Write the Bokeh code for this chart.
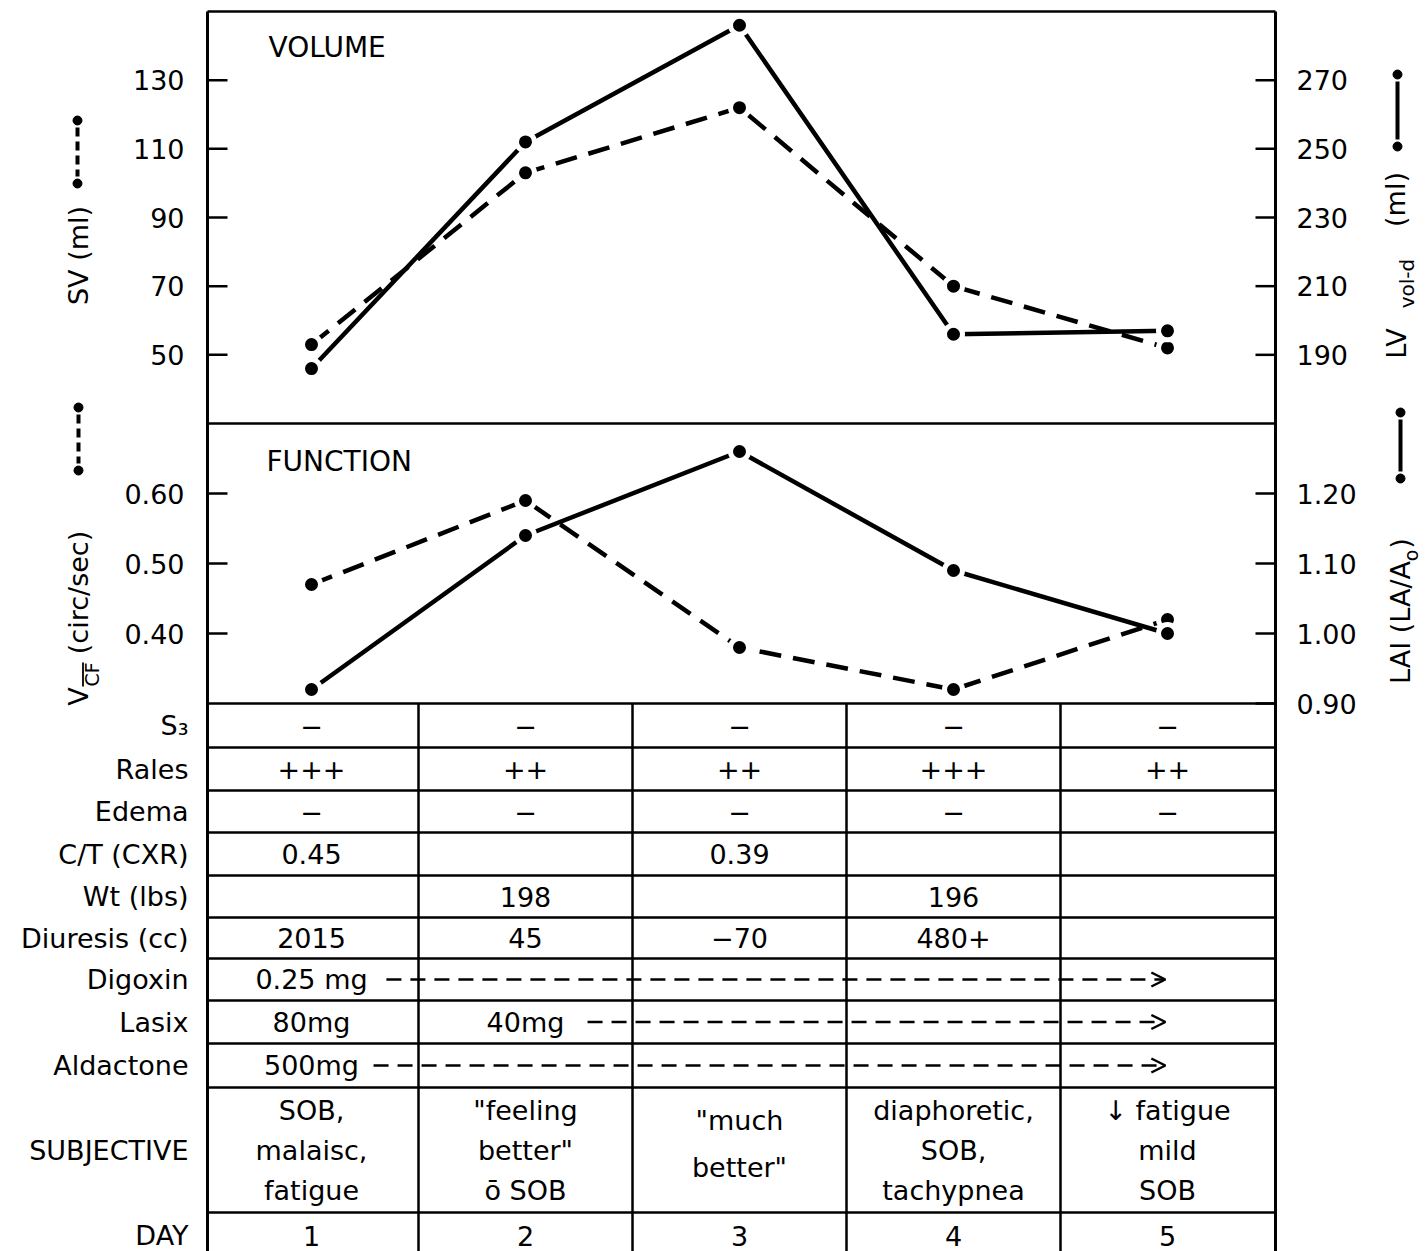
from math import pi

from bokeh.core.properties import value
from bokeh.embed import file_html
from bokeh.models import Arrow, OpenHead, Range1d
from bokeh.plotting import figure
from bokeh.resources import INLINE

# ------------------------------------------------------------------ data
days = [1, 2, 3, 4, 5]

# VOLUME panel
sv_ml = [53, 103, 122, 70, 52]                 # SV (ml), dashed, left scale
lv_vol_d_ml = [186, 252, 286, 196, 197]        # LV vol-d (ml), solid, right scale

# FUNCTION panel
vcf_circ_sec = [0.47, 0.59, 0.38, 0.32, 0.42]  # mean Vcf (circ/sec), dashed, left scale
lai_ratio = [0.92, 1.14, 1.26, 1.09, 1.00]     # LAI (LA/Ao), solid, right scale

sv_ticks = [50, 70, 90, 110, 130]
lv_ticks = [190, 210, 230, 250, 270]
vcf_ticks = [0.40, 0.50, 0.60]
lai_ticks = [0.90, 1.00, 1.10, 1.20]

# clinical table
row_labels = ["S\u2083", "Rales", "Edema", "C/T (CXR)", "Wt (lbs)", "Diuresis (cc)",
              "Digoxin", "Lasix", "Aldactone", "SUBJECTIVE", "DAY"]
s3 = ["\u2212", "\u2212", "\u2212", "\u2212", "\u2212"]
rales = ["+++", "++", "++", "+++", "++"]
edema = ["\u2212", "\u2212", "\u2212", "\u2212", "\u2212"]
ct_ratio = ["0.45", "", "0.39", "", ""]
weight_lbs = ["", "198", "", "196", ""]
diuresis_cc = ["2015", "45", "\u221270", "480+", ""]
digoxin = ["0.25 mg", "", "", "", ""]
lasix = ["80mg", "40mg", "", "", ""]
aldactone = ["500mg", "", "", "", ""]
last_dose_from = {"Digoxin": 1, "Lasix": 2, "Aldactone": 1}   # dose continued from this day to day 5
subjective = [
    ["SOB,", "malaisc,", "fatigue"],
    ["\"feeling", "better\"", "\u014d SOB"],
    ["\"much", "better\""],
    ["diaphoretic,", "SOB,", "tachypnea"],
    ["\u2193 fatigue", "mild", "SOB"],
]
day_numbers = ["1", "2", "3", "4", "5"]

# ---------------------------------------------------------------- layout
FONT = "DejaVu Sans"
W, H = 1428, 1251
LEFT, RIGHT, TOP, BOTTOM = 207, 1275, 11, 1251   # boxed area of the chart
DAY1_PX, DAY_PX = 311, 214                       # pixel of day 1, pixels per day
VOL_PX = (11, 423)                               # volume panel top/bottom
FUN_PX = (423, 703)                              # function panel top/bottom
ROW_EDGES = [703, 747, 790, 832, 875, 917, 958, 1000, 1043, 1087, 1212, 1258]
ROW_CENTERS = [(a + b) / 2 for a, b in zip(ROW_EDGES[:-1], ROW_EDGES[1:])]

SV_LIM = (30, 150) + VOL_PX
LV_LIM = (170, 290) + VOL_PX
VCF_LIM = (0.30, 0.70) + FUN_PX
LAI_LIM = (0.90, 1.30) + FUN_PX

DASH = "22 12"


def xd(px):
    """Horizontal pixel -> day coordinate."""
    return 1 + (px - DAY1_PX) / DAY_PX


def panel_range(lo, hi, top, bot):
    """Value range over the whole canvas height so that [lo, hi] fills top..bot."""
    per_px = (hi - lo) / (bot - top)
    return Range1d(start=lo - (H - bot) * per_px, end=hi + top * per_px)


# the plotting frame covers the whole page; margins hold scale text
p = figure(width=W, height=H,
           x_range=Range1d(xd(0), xd(W)), y_range=Range1d(H, 0),
           x_axis_location=None, y_axis_location=None,
           output_backend="svg", toolbar_location=None,
           min_border_left=0, min_border_right=0, min_border_top=0, min_border_bottom=0,
           background_fill_color="white", border_fill_color="white",
           outline_line_color=None)
p.grid.visible = False

p.extra_y_ranges = {
    "sv": panel_range(*SV_LIM),
    "lv": panel_range(*LV_LIM),
    "vcf": panel_range(*VCF_LIM),
    "lai": panel_range(*LAI_LIM),
}

x_left, x_right = xd(LEFT), xd(RIGHT)
TICK = 20 / DAY_PX
TXT = dict(text_font=value(FONT), text_color="black")

# ---- scales: inward ticks and their values
scales = [(sv_ticks, "sv", "left", "{:d}"), (vcf_ticks, "vcf", "left", "{:.2f}"),
          (lv_ticks, "lv", "right", "{:d}"), (lai_ticks, "lai", "right", "{:.2f}")]
for ticks, rng, side, fmt in scales:
    n = len(ticks)
    if side == "left":
        xa, xb, xl, align = x_left, x_left + TICK, xd(LEFT - 23), "right"
    else:
        xa, xb, xl, align = x_right - TICK, x_right, xd(RIGHT + 21), "left"
    p.segment(x0=[xa] * n, x1=[xb] * n, y0=ticks, y1=ticks, y_range_name=rng,
              line_color="black", line_width=2.5)
    p.text(x=[xl] * n, y=ticks, text=[fmt.format(t) for t in ticks], y_range_name=rng,
           text_align=align, text_baseline="middle", text_font_size="27px", **TXT)

# ---- box, panel divider and table rules
p.segment(x0=[x_left, x_right], x1=[x_left, x_right], y0=[TOP, TOP], y1=[BOTTOM, BOTTOM],
          line_color="black", line_width=3)
h_rules = [TOP, VOL_PX[1]] + ROW_EDGES[:-1]
p.segment(x0=[x_left] * len(h_rules), x1=[x_right] * len(h_rules), y0=h_rules, y1=h_rules,
          line_color="black", line_width=2.5)
col_edges = [d + 0.5 for d in days[:-1]]
p.segment(x0=col_edges, x1=col_edges, y0=[ROW_EDGES[0]] * 4, y1=[BOTTOM] * 4,
          line_color="black", line_width=2.5)

# ---- data series
series = [(sv_ml, "sv", DASH), (lv_vol_d_ml, "lv", "solid"),
          (vcf_circ_sec, "vcf", DASH), (lai_ratio, "lai", "solid")]
for vals, rng, dash in series:
    p.line(days, vals, y_range_name=rng, line_color="black", line_width=4.5, line_dash=dash)
for vals, rng, dash in series:
    p.scatter(days, vals, y_range_name=rng, marker="circle", size=18,
              fill_color="black", line_color="white", line_width=5)

# panel titles
p.text(x=[xd(268), xd(266)], y=[47, 461], text=["VOLUME", "FUNCTION"],
       text_align="left", text_baseline="middle", text_font_size="28px", **TXT)

# ---- table: row names and cells
p.text(x=[xd(LEFT - 19)] * len(row_labels), y=ROW_CENTERS, text=row_labels,
       text_align="right", text_baseline="middle", text_font_size="27px", **TXT)


def row_text(vals, row):
    p.text(x=days, y=[ROW_CENTERS[row]] * len(days), text=vals,
           text_align="center", text_baseline="middle", text_font_size="27px", **TXT)


for r, vals in enumerate([s3, rales, edema, ct_ratio, weight_lbs, diuresis_cc,
                          digoxin, lasix, aldactone]):
    row_text(vals, r)
row_text(day_numbers, 10)

# continued-dose arrows
clear_of_text = {"Digoxin": 0.35, "Lasix": 0.29, "Aldactone": 0.29}
for r, name in [(6, "Digoxin"), (7, "Lasix"), (8, "Aldactone")]:
    y = ROW_CENTERS[r]
    p.add_layout(Arrow(x_start=last_dose_from[name] + clear_of_text[name], y_start=y,
                       x_end=days[-1] - 0.01, y_end=y,
                       line_color="black", line_width=2.5, line_dash="15 9",
                       end=OpenHead(size=14, line_color="black", line_width=2.5)))

# subjective notes
sub_c = ROW_CENTERS[9]
for d, lines in zip(days, subjective):
    n = len(lines)
    step = 40 if n == 3 else 47
    ys = [sub_c - 6 * (n == 2) + (i - (n - 1) / 2) * step for i in range(n)]
    p.text(x=[d] * n, y=ys, text=lines, text_align="center", text_baseline="middle",
           text_font_size="27px", **TXT)


# ---- vertical scale titles (read bottom to top)
def vtext(txt, px_x, px_y, size):
    p.text(x=[xd(px_x)], y=[px_y], text=[txt], angle=pi / 2, text_align="center",
           text_baseline="middle", text_font_size=f"{size}px", **TXT)


vtext("SV (ml)", 78, 255, 27)
vtext("V", 78, 696, 27)
vtext("CF", 91, 674, 19)
vtext("(circ/sec)", 78, 592, 27)
vtext("LV", 1396, 343, 27)
vtext("vol-d", 1406, 283, 20)
vtext("(ml)", 1395, 199, 27)
vtext("LAI (LA/A", 1400, 622, 27)
vtext("o", 1410, 555, 19)
vtext(")", 1400, 543, 27)

# bar over the CF subscript
p.segment(x0=[xd(82.5)], x1=[xd(82.5)], y0=[662], y1=[686], line_color="black", line_width=1.8)

# line keys next to each title: dot, stroke, dot
keys = [(77, 120, 183, "9 5"), (78, 407, 470, "9 5"),
        (1397, 74, 146, "solid"), (1400, 412, 478, "solid")]
for kx, ka, kb, kdash in keys:
    p.segment(x0=[xd(kx)], x1=[xd(kx)], y0=[ka + 7], y1=[kb - 7], line_color="black",
              line_width=4, line_dash=kdash)
    p.scatter(x=[xd(kx)] * 2, y=[ka, kb], marker="circle", size=9, color="black")

open("out.html", "w").write(file_html(p, INLINE))
